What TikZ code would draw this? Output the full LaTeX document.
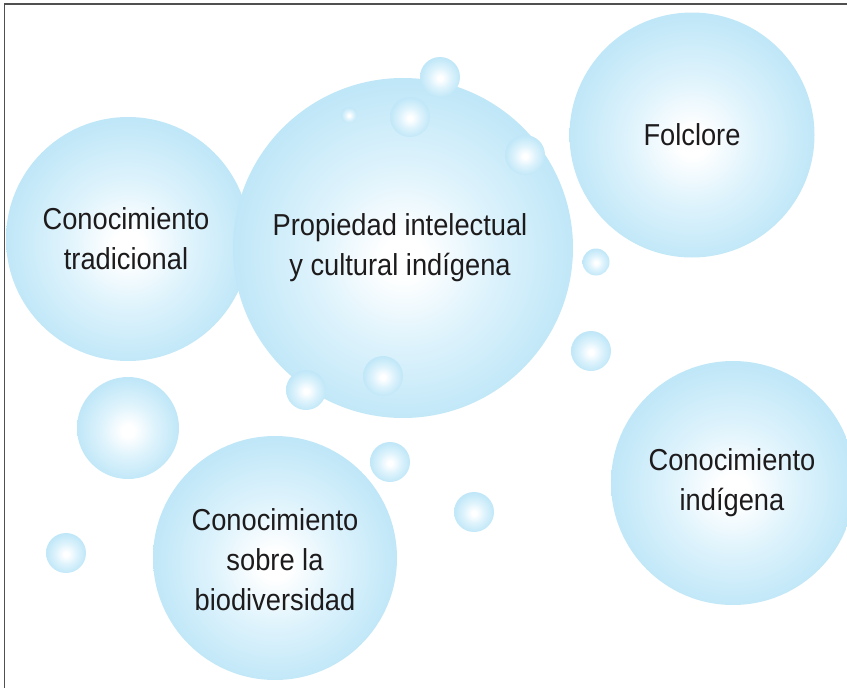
\documentclass[tikz,border=0pt]{standalone}
\usepackage{fontspec}
\setmainfont{Liberation Sans}[FakeStretch=0.9]
\definecolor{bubblue}{RGB}{192,231,248}
\definecolor{bubmid}{RGB}{222,243,252}
\definecolor{txt}{RGB}{30,27,28}
\definecolor{frame}{RGB}{80,80,80}
\pgfdeclareradialshading{bubble}{\pgfpoint{0bp}{-1.5bp}}{color(0bp)=(white); color(3bp)=(white); color(13bp)=(bubmid); color(25bp)=(bubblue); color(50bp)=(bubblue)}
\tikzset{
  bub/.style={circle, shading=bubble, draw=none, inner sep=0pt, minimum size=#1},
  lbl/.style={text=txt, align=center, font=\fontsize{30.3}{40}\selectfont}
}
\begin{document}
\begin{tikzpicture}[x=1pt,y=-1pt]
\useasboundingbox (0,0) rectangle (847,688);
\clip (0,0) rectangle (847,688);
% large bubbles
\node[bub=244] (trad) at (128,239) {};
\node[bub=340] (prop) at (403,248) {};
\node[bub=245] (folk) at (692,135) {};
\node[bub=244] (indi) at (733,483) {};
\node[bub=244] (bio) at (275,558) {};
\node[bub=102] (mid) at (128,428) {};
% small bubbles
\node[bub=40] (s1) at (440,77) {};
\node[bub=40] (s2) at (410,117) {};
\node[bub=16] (s3) at (349,115) {};
\node[bub=40] (s4) at (525,155) {};
\node[bub=27] (s5) at (596,262) {};
\node[bub=40] (s6) at (591,351) {};
\node[bub=40] (s7) at (306,390) {};
\node[bub=40] (s8) at (383,376) {};
\node[bub=40] (s9) at (390,462) {};
\node[bub=40] (s10) at (474,512) {};
\node[bub=40] (s11) at (66,553) {};
% labels
\node[lbl] (ttrad) at (126,239) {Conocimiento\\tradicional};
\node[lbl] (tprop) at (400,248) {Propiedad intelectual\\y cultural indígena};
\node[lbl] (tfolk) at (692,135) {Folclore};
\node[lbl] (tindi) at (732,483) {Conocimiento\\indígena};
\node[lbl] (tbio) at (275,560) {Conocimiento\\sobre la\\biodiversidad};
% frame
\coordinate (c1) at (4.5,688);
\coordinate (c2) at (4.5,4);
\coordinate (c3) at (847,4);
\draw[frame, line width=1.4pt] (c1) -- (c2) -- (c3);
\end{tikzpicture}
\end{document}
